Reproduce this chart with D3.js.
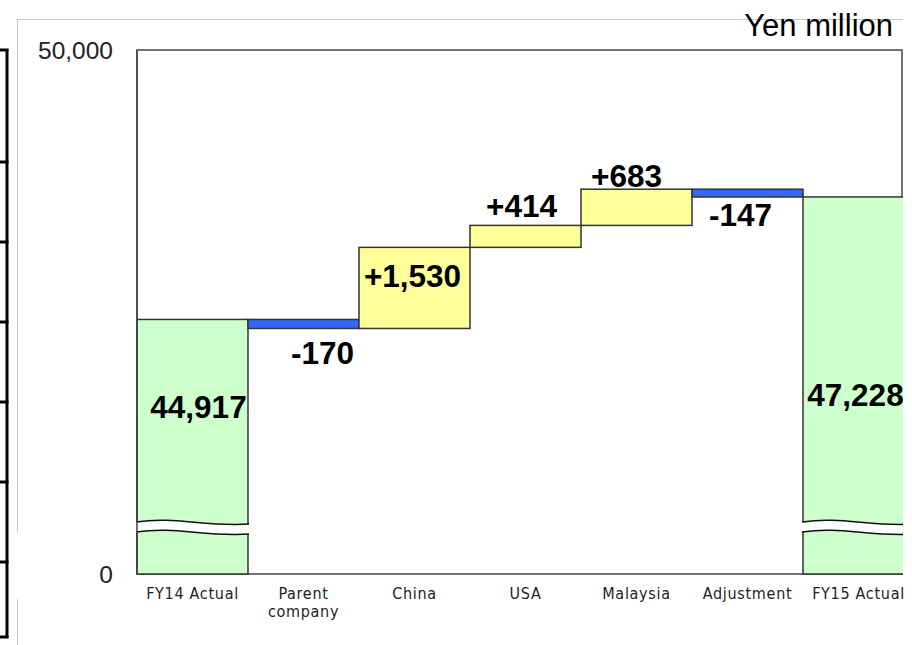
<!DOCTYPE html>
<html>
<head>
<meta charset="utf-8">
<script src="https://cdn.jsdelivr.net/npm/d3@7"></script>
<style>
  html, body { margin: 0; padding: 0; background: #fff; }
  svg { display: block; }
  .val { font-family: "Liberation Sans", Arial, sans-serif; font-weight: bold; font-size: 31.5px; fill: #000; }
  .cat { font-family: "Liberation Sans Narrow", "DejaVu Sans Condensed", "Liberation Sans", sans-serif; font-size: 16px; fill: #222; letter-spacing: 0.7px; }
  .tick text { font-family: "Liberation Sans", Arial, sans-serif; font-size: 24.5px; fill: #222; }
</style>
</head>
<body>
<svg id="chart" width="912" height="645"></svg>
<script>
// Operating profit bridge, FY14 → FY15 (Yen million)
const categories = ["FY14 Actual", "Parent company", "China", "USA", "Malaysia", "Adjustment", "FY15 Actual"];
const kinds      = ["total", "delta", "delta", "delta", "delta", "delta", "total"];
const values     = [44917, -170, 1530, 414, 683, -147, 47228];

// The value axis is broken: its bottom is drawn as "0"
const axisFloor  = 40115;
const axisTop    = 50000;
const tickValues = [axisFloor, axisTop];
const tickLabels = ["0", "50,000"];
const unitLabel  = "Yen million";

// layout
const W = 912, H = 645;
const plot = { left: 137, right: 902, top: 50, bottom: 574 };
const svg = d3.select("#chart");

const x = d3.scaleBand().domain(categories).range([plot.left, plot.left + 7 * 111]).padding(0);
const y = d3.scaleLinear().domain([axisFloor, axisTop]).range([plot.bottom, plot.top]);

// running totals for the waterfall
let run = 0;
const bars = categories.map((c, i) => {
  const v = values[i];
  let start, end;
  if (kinds[i] === "total") { start = axisFloor; end = v; run = v; }
  else { start = run; end = run + v; run = end; }
  return { c, v, kind: kinds[i], lo: Math.min(start, end), hi: Math.max(start, end) };
});

const fmt = d3.formatLocale({ decimal: ".", thousands: ",", grouping: [3], currency: ["", ""], minus: "-" });
const signed = fmt.format("+,");
const plain = fmt.format(",");

// slide decoration on the far left and top
const deco = svg.append("g");
deco.append("line").attr("x1", 16.5).attr("x2", 903).attr("y1", 19.5).attr("y2", 19.5)
  .attr("stroke", "#c8c8c8").attr("stroke-width", 1);
deco.append("line").attr("x1", 17.5).attr("x2", 17.5).attr("y1", 19).attr("y2", 532)
  .attr("stroke", "#c8c8c8").attr("stroke-width", 1);
deco.append("line").attr("x1", 17.5).attr("x2", 17.5).attr("y1", 599).attr("y2", 645)
  .attr("stroke", "#c8c8c8").attr("stroke-width", 1);
deco.append("line").attr("x1", 7).attr("x2", 7).attr("y1", 49).attr("y2", 638)
  .attr("stroke", "#000").attr("stroke-width", 3);
[50, 162, 242, 322, 402, 482, 562, 637].forEach(yy => {
  deco.append("line").attr("x1", 0).attr("x2", 8.5).attr("y1", yy).attr("y2", yy)
    .attr("stroke", "#000").attr("stroke-width", 3);
});

// unit label
svg.append("text").attr("x", 893).attr("y", 36).attr("text-anchor", "end")
  .attr("font-family", "Liberation Sans, Arial, sans-serif").attr("font-size", 31).attr("fill", "#000")
  .text(unitLabel);

svg.append("clipPath").attr("id", "plotClip").append("rect")
  .attr("x", 0).attr("y", 0).attr("width", plot.right + 1).attr("height", H);

const g = svg.append("g").attr("clip-path", "url(#plotClip)");

// plot frame
g.append("rect").attr("x", plot.left).attr("y", plot.top)
  .attr("width", plot.right - plot.left).attr("height", plot.bottom - plot.top)
  .attr("fill", "#fff").attr("stroke", "#444").attr("stroke-width", 1.5);

const fills = { total: "#ccffcc", up: "#ffff99", down: "#3366ff" };
g.selectAll("rect.bar").data(bars).join("rect").attr("class", "bar")
  .attr("x", d => x(d.c))
  .attr("width", x.bandwidth())
  .attr("y", d => y(d.hi))
  .attr("height", d => y(d.lo) - y(d.hi))
  .attr("fill", d => d.kind === "total" ? fills.total : (d.v >= 0 ? fills.up : fills.down))
  .attr("stroke", "#333").attr("stroke-width", 1.5);

// axis-break squiggle across the total columns
const breakY = y(axisFloor) - 52;
function wave(x0, x1, yy) {
  const w = x1 - x0;
  return `M${x0},${yy} C${x0 + w * 0.35},${yy - 6} ${x0 + w * 0.6},${yy + 5} ${x1},${yy + 2}`;
}
bars.filter(d => d.kind === "total").forEach(d => {
  const x0 = x(d.c) - 1, x1 = x(d.c) + x.bandwidth() + 1;
  const w = x1 - x0;
  const band = `M${x0},${breakY} C${x0 + w * 0.35},${breakY - 6} ${x0 + w * 0.6},${breakY + 5} ${x1},${breakY + 2}` +
    ` L${x1},${breakY + 12} C${x0 + w * 0.6},${breakY + 15} ${x0 + w * 0.35},${breakY + 4} ${x0},${breakY + 10} Z`;
  g.append("path").attr("d", band).attr("fill", "#fff").attr("stroke", "none");
  g.append("path").attr("d", wave(x0, x1, breakY)).attr("fill", "none").attr("stroke", "#111").attr("stroke-width", 1.6);
  g.append("path").attr("d", wave(x0, x1, breakY + 10)).attr("fill", "none").attr("stroke", "#111").attr("stroke-width", 1.6);
});

// left axis line redrawn over the break
g.append("line").attr("x1", plot.left).attr("x2", plot.left).attr("y1", plot.top).attr("y2", plot.bottom)
  .attr("stroke", "#444").attr("stroke-width", 1.5);

// value labels: [dx from band centre, anchor edge, dy]
const labelPlace = [
  { dx: 6,  ref: "hi", dy: 99 },
  { dx: 19, ref: "lo", dy: 36 },
  { dx: -2, ref: "hi", dy: 40 },
  { dx: -4, ref: "hi", dy: -8 },
  { dx: -10, ref: "hi", dy: -2 },
  { dx: -7, ref: "lo", dy: 29 },
  { dx: -3, ref: "hi", dy: 209 }
];
g.selectAll("text.val").data(bars).join("text").attr("class", "val")
  .attr("text-anchor", "middle")
  .attr("x", (d, i) => x(d.c) + x.bandwidth() / 2 + labelPlace[i].dx)
  .attr("y", (d, i) => y(d[labelPlace[i].ref]) + labelPlace[i].dy)
  .text(d => d.kind === "total" ? plain(d.v) : signed(d.v));

// value axis
const axis = d3.axisLeft(y).tickValues(tickValues)
  .tickFormat((d, i) => tickLabels[i]).tickSize(0).tickPadding(24);
const ax = svg.append("g").attr("transform", `translate(${plot.left},0)`).call(axis);
ax.select(".domain").remove();
ax.selectAll(".tick text").attr("dy", "0.35em");

// category labels, wrapped onto two lines where needed
const catG = svg.append("g");
categories.forEach(c => {
  const words = c === "Parent company" ? ["Parent", "company"] : [c];
  const t = catG.append("text").attr("class", "cat").attr("text-anchor", "middle")
    .attr("x", x(c) + x.bandwidth() / 2).attr("y", 599);
  words.forEach((w, k) => t.append("tspan").attr("x", x(c) + x.bandwidth() / 2).attr("dy", k ? 18 : 0).text(w));
});
</script>
</body>
</html>
